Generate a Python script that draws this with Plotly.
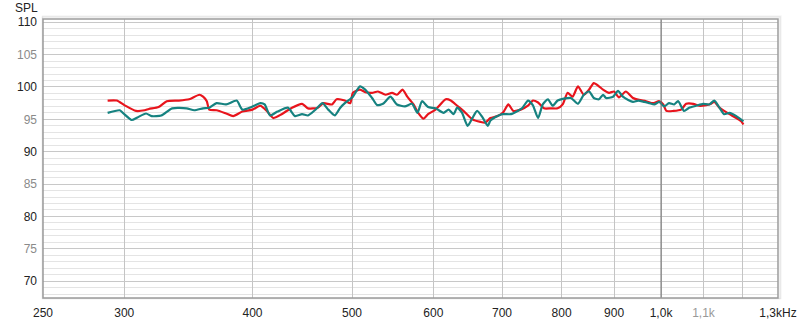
import plotly.graph_objects as go

# ---- data ----
red_freq = [289, 295, 300, 308, 314, 317, 324, 330, 339, 347, 355, 358, 361, 363, 369, 377, 383, 391,
            400, 407, 413, 419, 427, 437, 447, 453, 463, 469, 478, 483, 492, 498, 501, 509, 515, 523,
            530, 539, 547, 553, 560, 566, 574, 580, 587, 593, 603, 617, 624, 633, 642, 655, 667, 674,
            682, 693, 702, 710, 718, 730, 742, 750, 759, 769, 781, 793, 802, 811, 820, 830, 841, 851,
            860, 870, 878, 890, 900, 910, 924, 939, 952, 967, 982, 996, 1005, 1012, 1028, 1046, 1058,
            1075, 1089, 1107, 1119, 1127, 1140, 1152, 1166, 1184, 1197, 1203]
red_spl = [97.9, 97.9, 97.2, 96.3, 96.4, 96.6, 96.9, 97.8, 97.9, 98.1, 98.8, 98.5, 97.8, 96.5, 96.4, 95.9,
           95.5, 96.2, 96.5, 97.1, 96.3, 95.2, 95.8, 96.8, 97.4, 96.7, 96.8, 97.5, 97.3, 98.1, 97.9, 97.5,
           99.1, 99.6, 99.2, 99.1, 99.3, 98.8, 99.1, 98.8, 99.6, 98.5, 97.3, 96.0, 95.1, 95.8, 96.5, 98.1,
           97.9, 97.1, 96.3, 95.0, 94.6, 94.5, 95.2, 95.5, 96.1, 97.3, 96.3, 96.5, 97.1, 97.9, 97.6, 96.7,
           96.7, 96.7, 97.3, 99.1, 98.5, 100.1, 98.8, 99.6, 100.6, 100.1, 99.6, 99.1, 99.3, 98.4, 99.3,
           98.3, 98.0, 97.8, 97.5, 97.8, 97.3, 96.3, 96.3, 96.5, 97.4, 97.4, 97.1, 97.2, 97.4, 97.7, 96.8,
           96.3, 95.8, 95.2, 94.7, 94.2]

teal_freq = [289, 297, 300, 305, 309, 315, 319, 326, 334, 345, 351, 358, 363, 369, 377, 386, 391, 399,
             407, 411, 416, 423, 433, 440, 447, 453, 460, 468, 474, 481, 487, 492, 501, 509, 515, 523,
             529, 536, 545, 553, 563, 572, 579, 585, 593, 603, 614, 621, 628, 633, 640, 648, 655, 662,
             670, 678, 682, 693, 701, 714, 725, 733, 742, 750, 759, 767, 776, 784, 793, 804, 817, 830,
             841, 851, 860, 870, 878, 884, 898, 908, 918, 929, 939, 950, 963, 974, 985, 996, 1007, 1018,
             1030, 1039, 1053, 1065, 1082, 1099, 1114, 1127, 1140, 1152, 1166, 1184, 1203]
teal_spl = [96.0, 96.4, 95.8, 94.9, 95.3, 95.9, 95.5, 95.6, 96.7, 96.7, 96.4, 96.7, 96.8, 97.5, 97.3,
            97.9, 96.5, 96.9, 97.5, 97.3, 95.6, 96.2, 96.8, 95.5, 95.8, 95.6, 96.4, 97.5, 96.5, 95.6,
            96.8, 97.5, 98.5, 100.1, 99.6, 98.3, 97.2, 97.4, 98.5, 97.3, 97.0, 97.4, 96.0, 97.8, 96.9,
            96.7, 96.0, 96.5, 95.8, 96.8, 96.0, 94.0, 95.2, 96.3, 95.3, 94.0, 94.8, 95.5, 95.8, 95.8,
            96.3, 96.8, 97.9, 97.2, 95.2, 97.3, 98.1, 97.1, 97.9, 98.2, 98.3, 97.4, 98.8, 99.3, 98.3,
            98.1, 98.8, 98.3, 98.5, 99.4, 98.5, 98.0, 97.7, 97.9, 97.7, 97.5, 97.3, 97.7, 97.0, 97.5,
            97.3, 97.8, 96.3, 96.8, 97.1, 97.4, 97.3, 97.9, 96.8, 95.8, 96.0, 95.5, 94.7]

x_tick_vals = [250, 300, 400, 500, 600, 700, 800, 900, 1000, 1100, 1200, 1300]
x_tick_text = ["250", "300", "400", "500", "600", "700", "800", "900", "1,0k",
               "<span style='color:#999999'>1,1k</span>", "", "1,3kHz"]
y_tick_vals = [70, 75, 80, 85, 90, 95, 100, 105, 110]
y_tick_text = ["70", "<span style='color:#8a8a8a'>75</span>", "80",
               "<span style='color:#8a8a8a'>85</span>", "90",
               "<span style='color:#8a8a8a'>95</span>", "100",
               "<span style='color:#8a8a8a'>105</span>", "110"]

fig = go.Figure()
fig.add_trace(go.Scatter(x=red_freq, y=red_spl, mode="lines",
                         line=dict(color="#e8141c", width=2.2, shape="spline", smoothing=0.6),
                         showlegend=False, hoverinfo="skip"))
fig.add_trace(go.Scatter(x=teal_freq, y=teal_spl, mode="lines",
                         line=dict(color="#168280", width=2.2, shape="spline", smoothing=0.6),
                         showlegend=False, hoverinfo="skip"))

W, H = 800, 323
ml, mr, mt, mb = 43, 22, 19, 25
pw, ph = W - ml - mr, H - mt - mb

fig.update_layout(
    width=W, height=H,
    margin=dict(l=ml, r=mr, t=mt, b=mb, pad=0, autoexpand=False),
    paper_bgcolor="white", plot_bgcolor="white",
    font=dict(family="Liberation Sans, Arial, sans-serif", size=12, color="#222222"),
    xaxis=dict(type="log", range=[2.39794, 3.11394], tickmode="array",
               tickvals=x_tick_vals, ticktext=x_tick_text, automargin=False,
               showgrid=True, gridcolor="#c4c4c4", gridwidth=1,
               zeroline=False, showline=False, ticks="", ticklabelstandoff=6),
    yaxis=dict(range=[67.4, 110.5], tickmode="array",
               tickvals=y_tick_vals, ticktext=y_tick_text, automargin=False,
               showgrid=True, gridcolor="#c8c8c8", gridwidth=1,
               minor=dict(dtick=1, tick0=0, showgrid=True, gridcolor="#e4e4e4", gridwidth=1),
               zeroline=False, showline=False, ticks="", ticklabelstandoff=5),
)

# darker 1 kHz line
fig.add_shape(type="line", xref="x", yref="paper", x0=1000, x1=1000, y0=0, y1=1,
              line=dict(color="#6e6e6e", width=1), layer="above")

# frame with soft shadow
px = 1.0 / pw
py = 1.0 / ph
for k, c in [(3, "rgba(0,0,0,0.04)"), (2, "rgba(0,0,0,0.08)")]:
    fig.add_shape(type="rect", xref="paper", yref="paper",
                  x0=-px * 0.5, x1=1 + px * k, y0=-py * 0.5, y1=1 + py * k,
                  line=dict(color=c, width=1.5), layer="above")
fig.add_shape(type="rect", xref="paper", yref="paper", x0=0, x1=1, y0=0, y1=1,
              line=dict(color="#9c9c9c", width=1.5), layer="above")

fig.add_annotation(text="SPL", xref="paper", yref="paper", x=-3 * px, y=1 + 11 * py,
                   xanchor="right", yanchor="middle", showarrow=False,
                   font=dict(size=12, color="#222222"))

fig.write_html("out.html")
